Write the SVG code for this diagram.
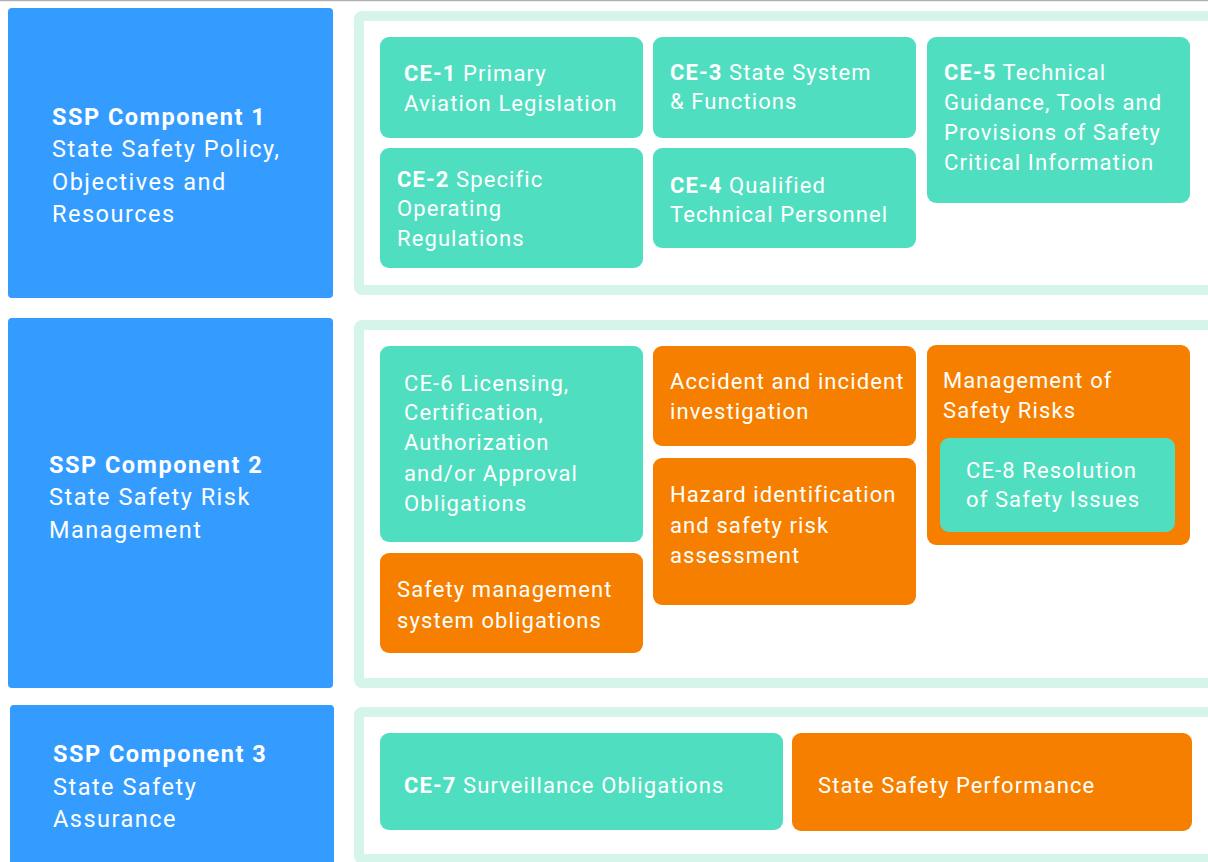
<svg xmlns="http://www.w3.org/2000/svg" width="1208" height="862" viewBox="0 0 1208 862">
<style>
text{font-family:Roboto,"Liberation Sans",sans-serif;fill:#ffffff;}
.comp{fill:#349CFF;}
.cont{fill:#ffffff;stroke:#D6F5EA;stroke-width:10;}
.g{fill:#50DEC0;}
.o{fill:#F77F00;}
.bt{font-size:23.5px;letter-spacing:1.5px;}
.t{font-size:22px;letter-spacing:1.1px;}
.b{font-weight:bold;}
</style>
<rect x="0" y="0" width="1208" height="862" fill="#ffffff"/>
<line x1="0" y1="0.5" x2="1208" y2="0.5" stroke="#b0b0b0" stroke-width="1.5"/>
<g id="connectors"></g>

<g id="comp1">
<rect class="comp" x="8" y="8" width="325" height="290" rx="4"/>
<text class="bt" x="52" y="125"><tspan class="b">SSP Component 1</tspan></text>
<text class="bt" x="52" y="157">State Safety Policy,</text>
<text class="bt" x="52" y="190">Objectives and</text>
<text class="bt" x="52" y="222">Resources</text>
</g>
<g id="comp2">
<rect class="comp" x="8" y="318" width="325" height="370" rx="4"/>
<text class="bt" x="49" y="473"><tspan class="b">SSP Component 2</tspan></text>
<text class="bt" x="49" y="505">State Safety Risk</text>
<text class="bt" x="49" y="538">Management</text>
</g>
<g id="comp3">
<rect class="comp" x="10" y="705" width="324" height="170" rx="4"/>
<text class="bt" x="53" y="762"><tspan class="b">SSP Component 3</tspan></text>
<text class="bt" x="53" y="795">State Safety</text>
<text class="bt" x="53" y="827">Assurance</text>
</g>

<g id="container1"><rect class="cont" x="359" y="16" width="870" height="274" rx="3"/></g>
<g id="container2"><rect class="cont" x="359" y="325" width="870" height="358" rx="3"/></g>
<g id="container3"><rect class="cont" x="359" y="712" width="870" height="147" rx="3"/></g>

<g id="ce1">
<rect class="g" x="380" y="37" width="263" height="101" rx="9"/>
<text class="t" x="404" y="81"><tspan class="b">CE-1</tspan> Primary</text>
<text class="t" x="404" y="111">Aviation Legislation</text>
</g>
<g id="ce2">
<rect class="g" x="380" y="148" width="263" height="120" rx="9"/>
<text class="t" x="397" y="187"><tspan class="b">CE-2</tspan> Specific</text>
<text class="t" x="397" y="216">Operating</text>
<text class="t" x="397" y="246">Regulations</text>
</g>
<g id="ce3">
<rect class="g" x="653" y="37" width="263" height="101" rx="9"/>
<text class="t" x="670" y="80"><tspan class="b">CE-3</tspan> State System</text>
<text class="t" x="670" y="109">&amp; Functions</text>
</g>
<g id="ce4">
<rect class="g" x="653" y="148" width="263" height="100" rx="9"/>
<text class="t" x="670" y="193"><tspan class="b">CE-4</tspan> Qualified</text>
<text class="t" x="670" y="222">Technical Personnel</text>
</g>
<g id="ce5">
<rect class="g" x="927" y="37" width="263" height="166" rx="9"/>
<text class="t" x="944" y="80"><tspan class="b">CE-5</tspan> Technical</text>
<text class="t" x="944" y="110">Guidance, Tools and</text>
<text class="t" x="944" y="140">Provisions of Safety</text>
<text class="t" x="944" y="170">Critical Information</text>
</g>

<g id="ce6">
<rect class="g" x="380" y="346" width="263" height="196" rx="9"/>
<text class="t" x="404" y="391">CE-6 Licensing,</text>
<text class="t" x="404" y="420">Certification,</text>
<text class="t" x="404" y="450">Authorization</text>
<text class="t" x="404" y="481">and/or Approval</text>
<text class="t" x="404" y="511">Obligations</text>
</g>
<g id="sms">
<rect class="o" x="380" y="553" width="263" height="100" rx="9"/>
<text class="t" x="397" y="597">Safety management</text>
<text class="t" x="397" y="628">system obligations</text>
</g>
<g id="accident">
<rect class="o" x="653" y="346" width="263" height="100" rx="9"/>
<text class="t" x="670" y="389">Accident and incident</text>
<text class="t" x="670" y="419">investigation</text>
</g>
<g id="hazard">
<rect class="o" x="653" y="458" width="263" height="147" rx="9"/>
<text class="t" x="670" y="502">Hazard identification</text>
<text class="t" x="670" y="533">and safety risk</text>
<text class="t" x="670" y="563">assessment</text>
</g>
<g id="msr">
<rect class="o" x="927" y="345" width="263" height="200" rx="9"/>
<text class="t" x="943" y="388">Management of</text>
<text class="t" x="943" y="418">Safety Risks</text>
</g>
<g id="ce8">
<rect class="g" x="940" y="438" width="235" height="94" rx="9"/>
<text class="t" x="966" y="478">CE-8 Resolution</text>
<text class="t" x="966" y="507">of Safety Issues</text>
</g>

<g id="ce7">
<rect class="g" x="380" y="733" width="403" height="97" rx="9"/>
<text class="t" x="404" y="793"><tspan class="b">CE-7</tspan> Surveillance Obligations</text>
</g>
<g id="ssperf">
<rect class="o" x="792" y="733" width="400" height="98" rx="9"/>
<text class="t" x="818" y="793">State Safety Performance</text>
</g>
</svg>
